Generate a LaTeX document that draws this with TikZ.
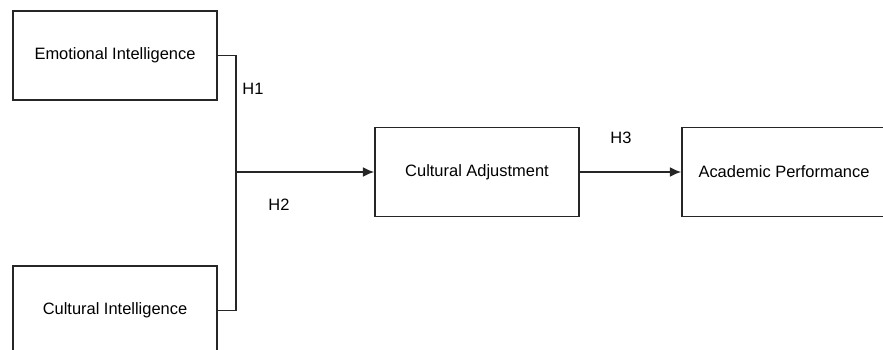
\documentclass[tikz,border=0pt]{standalone}
\usepackage{fontspec}
\setmainfont{Liberation Sans}
\usetikzlibrary{arrows.meta}

\tikzset{
  factor/.style={draw=black!85, line width=1.1pt, minimum width=5.1cm, minimum height=2.225cm, inner sep=0pt},
  path/.style={black!85, line width=1.1pt},
  hyp/.style={inner sep=0pt}
}

\begin{document}
\begin{tikzpicture}[font=\fontsize{11.7}{14}\selectfont]

\clip (0,0) rectangle (22.075, 8.75);

\node (ei) at (2.875, 7.3625) [factor] {Emotional Intelligence};
\node (ci) at (2.875, 0.9875) [factor] {Cultural Intelligence};
\node (ca) at (11.925, 4.45) [factor] {Cultural Adjustment};
\node (ap) at (19.6, 4.45) [factor] {Academic Performance};

\coordinate (jn) at (5.9, 4.45);

\draw [path] (ei.east) -| (jn);
\draw [path] (ci.east) -| (jn);
\draw [path, -{Latex[length=8pt, width=7pt]}] (jn) -- (ca.west);
\draw [path, -{Latex[length=8pt, width=7pt]}] (ca.east) -- (ap.west);

\node (h1) at (6.325, 6.525) [hyp] {H1};
\node (h2) at (6.975, 3.625) [hyp] {H2};
\node (h3) at (15.525, 5.3) [hyp] {H3};

\end{tikzpicture}
\end{document}
